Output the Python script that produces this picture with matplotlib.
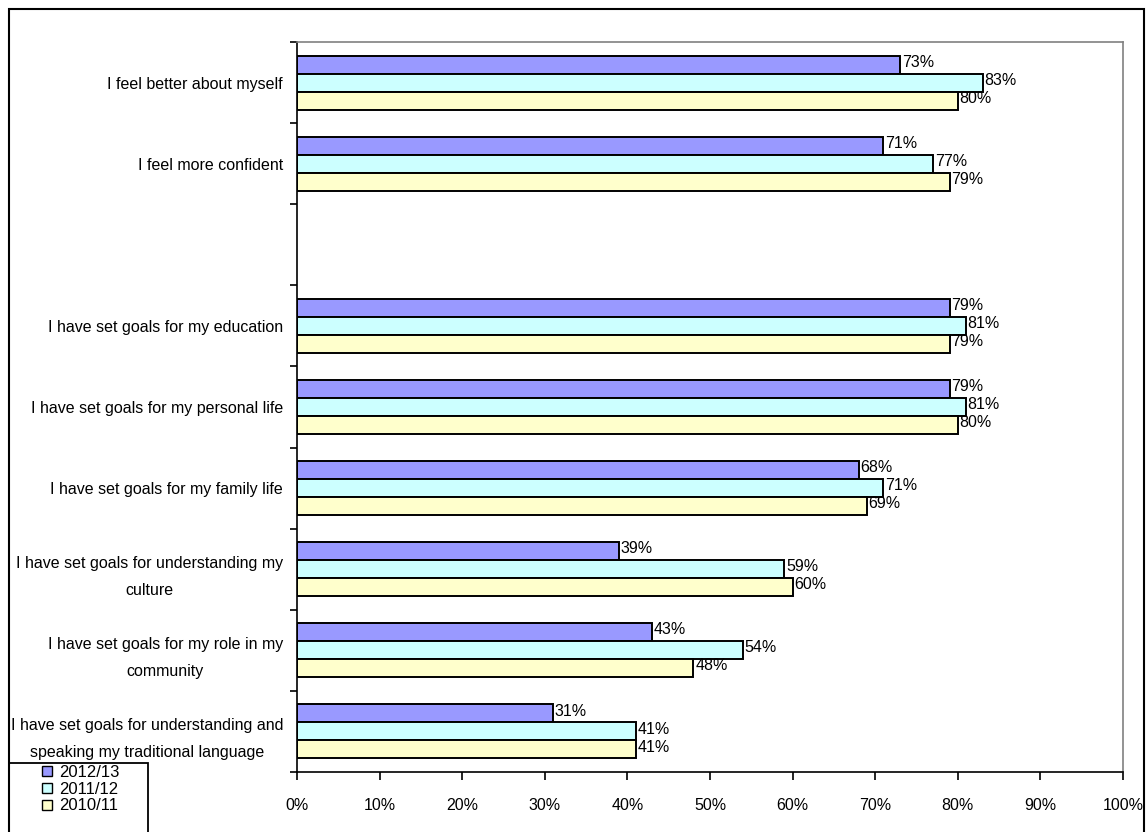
import matplotlib.pyplot as plt
from matplotlib.patches import Rectangle
from matplotlib.lines import Line2D

plt.rcParams['font.family'] = ['Liberation Sans', 'DejaVu Sans']

categories = [
    'I feel better about myself',
    'I feel more confident',
    '',
    'I have set goals for my education',
    'I have set goals for my personal life',
    'I have set goals for my family life',
    'I have set goals for understanding my\nculture',
    'I have set goals for my role in my\ncommunity',
    'I have set goals for understanding and\nspeaking my traditional language',
]
series_names = ['2012/13', '2011/12', '2010/11']
vals_2012 = [73, 71, None, 79, 79, 68, 39, 43, 31]
vals_2011 = [83, 77, None, 81, 81, 71, 59, 54, 41]
vals_2010 = [80, 79, None, 79, 80, 69, 60, 48, 41]
colors = ['#9999FF', '#CCFFFF', '#FFFFCC']

W, H = 1146, 832
fig = plt.figure(figsize=(W / 100, H / 100), dpi=100)
ax = fig.add_axes([297 / W, 1 - 772 / H, (1123 - 297) / W, (772 - 42) / H])

bar_h = 0.222
for k, (vals, col) in enumerate(zip([vals_2012, vals_2011, vals_2010], colors)):
    for i, v in enumerate(vals):
        if v is None:
            continue
        y = i + 0.5 + (k - 1) * bar_h
        ax.barh(y, v, height=bar_h, color=col, edgecolor='black', linewidth=1.4)
        ax.text(v + 0.2, y - 0.03, f'{v}%', va='center', ha='left', fontsize=11.5)

ax.set_xlim(0, 100)
ax.set_ylim(len(categories), 0)
ax.set_xticks(range(0, 101, 10))
ax.set_xticklabels([f'{t}%' for t in range(0, 101, 10)], fontsize=11.5)
ax.set_yticks(range(len(categories) + 1))
ax.set_yticklabels([])
ax.set_yticks([i + 0.5 for i in range(len(categories))], minor=True)
ax.set_yticklabels(categories, minor=True, fontsize=11.5, multialignment='center',
                   linespacing=2.0)
ax.tick_params(axis='y', which='major', direction='out', length=5, width=1.2)
ax.tick_params(axis='y', which='minor', length=0, pad=10)
ax.tick_params(axis='x', direction='out', length=6, width=1.2, pad=13)

for s in ['left', 'bottom']:
    ax.spines[s].set_color('black')
    ax.spines[s].set_linewidth(1.2)
for s in ['top', 'right']:
    ax.spines[s].set_color('#808080')
    ax.spines[s].set_linewidth(1.2)

# outer frame of the chart (runs off the bottom edge, as in the original)
fig.patches.append(Rectangle((9 / W, -0.05), (1144 - 9) / W, 1.05 - 9 / H,
                             transform=fig.transFigure, fill=False,
                             edgecolor='black', linewidth=1.5))
# legend box
fig.patches.append(Rectangle((9 / W, -0.05), (148 - 9) / W, 0.05 + 1 - 763 / H,
                             transform=fig.transFigure, fill=False,
                             edgecolor='black', linewidth=1.3))

handles = [Line2D([], [], marker='s', linestyle='', markersize=7.5,
                  markerfacecolor=c, markeredgecolor='black') for c in colors]
fig.legend(handles, series_names, loc='upper center',
           bbox_to_anchor=(80 / W, 1 - 765 / H), fontsize=12,
           frameon=False, handlelength=0.8, handletextpad=0.3,
           borderpad=0, labelspacing=0.1, borderaxespad=0)

fig.savefig('out.png', dpi=100)
